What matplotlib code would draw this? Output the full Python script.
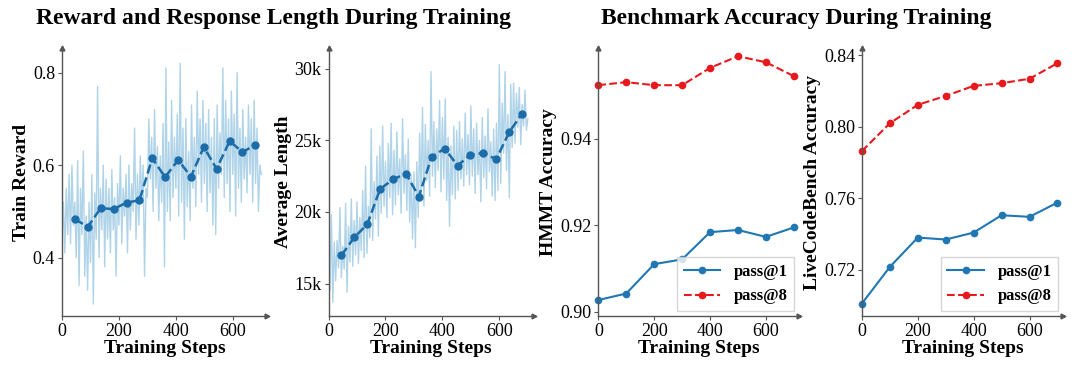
import matplotlib
matplotlib.use("Agg")
import matplotlib.pyplot as plt

# --------------------------------------------------
# Data
# --------------------------------------------------
raw_steps = list(range(0, 705, 5))

raw_reward = [
    0.44, 0.52, 0.41, 0.55, 0.45, 0.58, 0.43, 0.60, 0.47, 0.52,
    0.40, 0.61, 0.34, 0.55, 0.45, 0.63, 0.36, 0.49, 0.33, 0.52,
    0.39, 0.58, 0.30, 0.54, 0.44, 0.77, 0.40, 0.55, 0.46, 0.60,
    0.38, 0.57, 0.44, 0.55, 0.41, 0.59, 0.46, 0.53, 0.36, 0.56,
    0.47, 0.62, 0.43, 0.55, 0.49, 0.58, 0.41, 0.60, 0.46, 0.56,
    0.50, 0.68, 0.44, 0.58, 0.47, 0.62, 0.52, 0.60, 0.36, 0.55,
    0.53, 0.70, 0.57, 0.66, 0.50, 0.72, 0.55, 0.64, 0.48, 0.62,
    0.52, 0.69, 0.38, 0.81, 0.50, 0.65, 0.48, 0.74, 0.53, 0.66,
    0.55, 0.71, 0.49, 0.82, 0.52, 0.68, 0.44, 0.70, 0.51, 0.63,
    0.48, 0.73, 0.55, 0.66, 0.51, 0.76, 0.58, 0.70, 0.52, 0.74,
    0.56, 0.69, 0.50, 0.72, 0.54, 0.66, 0.47, 0.70, 0.45, 0.73,
    0.55, 0.67, 0.58, 0.81, 0.53, 0.74, 0.56, 0.70, 0.50, 0.76,
    0.58, 0.71, 0.49, 0.80, 0.55, 0.68, 0.52, 0.72, 0.57, 0.66,
    0.54, 0.73, 0.58, 0.70, 0.52, 0.74, 0.56, 0.68, 0.50, 0.60,
    0.58,
]

raw_length = [
    18500, 14500, 19800, 13700, 17900, 15200, 18000, 16100, 20300, 15400,
    17600, 16000, 20600, 14400, 19000, 16500, 20900, 16200, 19400, 17000,
    20700, 16400, 19600, 17300, 21500, 16800, 23200, 17100, 20400, 18200,
    25800, 18000, 22100, 19500, 23900, 18300, 24600, 19900, 26000, 20400,
    23500, 19600, 24800, 21000, 26200, 19800, 24300, 20500, 25600, 21200,
    23700, 19900, 26500, 21300, 24000, 20100, 25100, 19300, 22600, 18100,
    22800, 17500, 23500, 19600, 25500, 21000, 27300, 20400, 26100, 22200,
    25000, 21100, 29800, 22500, 26300, 21700, 25800, 22900, 27800, 21400,
    26600, 22300, 27900, 20800, 25200, 19000, 24600, 21200, 26000, 20900,
    25700, 21500, 26300, 22300, 25100, 21800, 26900, 22600, 25400, 21900,
    27400, 22500, 25800, 21300, 26200, 22600, 25000, 20700, 26600, 22400,
    25300, 21600, 27200, 22800, 24900, 21100, 25800, 20800, 26200, 21500,
    30300, 22000, 27600, 24100, 29800, 22900, 26800, 21000, 28900, 24500,
    29000, 24800, 28300, 25900, 28700, 24700, 27500, 26000, 28500, 25700,
    26500,
]

smooth_steps = [45, 91, 136, 181, 227, 272, 317, 362, 408, 453, 498, 543, 589, 634, 679]
smooth_reward = [0.483, 0.467, 0.507, 0.505, 0.519, 0.524, 0.615, 0.574,
                 0.611, 0.575, 0.639, 0.592, 0.652, 0.628, 0.644]
smooth_length = [16960, 18240, 19130, 21600, 22280, 22680, 21070, 23840,
                 24430, 23240, 23980, 24120, 23680, 25550, 26850]

eval_steps = [0, 100, 200, 300, 400, 500, 600, 700]
hmmt_pass1 = [0.9027, 0.9042, 0.9110, 0.9121, 0.9184, 0.9189, 0.9173, 0.9195]
hmmt_pass8 = [0.9524, 0.9531, 0.9524, 0.9524, 0.9564, 0.9591, 0.9577, 0.9545]
lcb_pass1 = [0.7010, 0.7215, 0.7379, 0.7368, 0.7407, 0.7504, 0.7495, 0.7575]
lcb_pass8 = [0.7863, 0.8019, 0.8122, 0.8172, 0.8228, 0.8243, 0.8268, 0.8355]

# --------------------------------------------------
# Style
# --------------------------------------------------
plt.rcParams["font.family"] = ["Liberation Serif", "DejaVu Serif"]

RAW_COLOR = "#afd3e8"
SMOOTH_COLOR = "#1b6ca8"
BLUE = "#1f77b4"
RED = "#e8191c"
SPINE = "#555555"

fig = plt.figure(figsize=(10.8, 3.78), dpi=100)

bottom, height = 0.164, 0.709
ax1 = fig.add_axes([0.0574, bottom, 0.1898, height])
ax2 = fig.add_axes([0.3042, bottom, 0.1898, height])
ax3 = fig.add_axes([0.5540, bottom, 0.1862, height])
ax4 = fig.add_axes([0.7981, bottom, 0.1862, height])


def style_axis(ax, ylabel):
    for side in ["top", "right"]:
        ax.spines[side].set_visible(False)
    for side in ["left", "bottom"]:
        ax.spines[side].set_color(SPINE)
        ax.spines[side].set_linewidth(1.0)
    ax.plot(1, 0, ">", color=SPINE, markersize=3.5, transform=ax.transAxes, clip_on=False)
    ax.plot(0, 1, "^", color=SPINE, markersize=3.5, transform=ax.transAxes, clip_on=False)
    ax.tick_params(labelsize=13, length=3, width=0.8, color=SPINE, pad=2)
    ax.set_xlim(0, 720)
    ax.set_xticks([0, 200, 400, 600])
    ax.set_xlabel("Training Steps", fontsize=14, fontweight="bold", labelpad=0)
    ax.set_ylabel(ylabel, fontsize=14, fontweight="bold", labelpad=2)


# Panel 1: train reward
ax1.plot(raw_steps, raw_reward, color=RAW_COLOR, linewidth=1.0)
ax1.plot(smooth_steps, smooth_reward, "--o", color=SMOOTH_COLOR, linewidth=1.8, markersize=5)
style_axis(ax1, "Train Reward")
ax1.set_ylim(0.274, 0.853)
ax1.set_yticks([0.4, 0.6, 0.8])
ax1.set_yticklabels(["0.4", "0.6", "0.8"])

# Panel 2: average length
ax2.plot(raw_steps, raw_length, color=RAW_COLOR, linewidth=1.0)
ax2.plot(smooth_steps, smooth_length, "--o", color=SMOOTH_COLOR, linewidth=1.8, markersize=5)
style_axis(ax2, "Average Length")
ax2.set_ylim(12730, 31450)
ax2.set_yticks([15000, 20000, 25000, 30000])
ax2.set_yticklabels(["15k", "20k", "25k", "30k"])

# Panel 3: HMMT
ax3.plot(eval_steps, hmmt_pass1, "-o", color=BLUE, linewidth=1.5, markersize=4.5,
         label="pass@1", clip_on=False)
ax3.plot(eval_steps, hmmt_pass8, "--o", color=RED, linewidth=1.5, markersize=4.5,
         label="pass@8", clip_on=False)
style_axis(ax3, "HMMT Accuracy")
ax3.set_ylim(0.899, 0.961)
ax3.set_yticks([0.90, 0.92, 0.94])
ax3.set_yticklabels(["0.90", "0.92", "0.94"])

# Panel 4: LiveCodeBench
ax4.plot(eval_steps, lcb_pass1, "-o", color=BLUE, linewidth=1.5, markersize=4.5,
         label="pass@1", clip_on=False)
ax4.plot(eval_steps, lcb_pass8, "--o", color=RED, linewidth=1.5, markersize=4.5,
         label="pass@8", clip_on=False)
style_axis(ax4, "LiveCodeBench Accuracy")
ax4.set_ylim(0.694, 0.844)
ax4.set_yticks([0.72, 0.76, 0.80, 0.84])
ax4.set_yticklabels(["0.72", "0.76", "0.80", "0.84"])

for ax in [ax3, ax4]:
    leg = ax.legend(loc="lower right", prop={"weight": "bold", "size": 12},
                    frameon=True, fancybox=False, borderpad=0.4,
                    handlelength=2.2, borderaxespad=0.3)
    leg.get_frame().set_edgecolor("#cccccc")

# Group titles
fig.text(273 / 1080, 1 - 24 / 378, "Reward and Response Length During Training",
         ha="center", va="baseline", fontsize=17, fontweight="bold")
fig.text(796 / 1080, 1 - 24 / 378, "Benchmark Accuracy During Training",
         ha="center", va="baseline", fontsize=17, fontweight="bold")

fig.savefig("out.png", dpi=100)
plt.close(fig)
